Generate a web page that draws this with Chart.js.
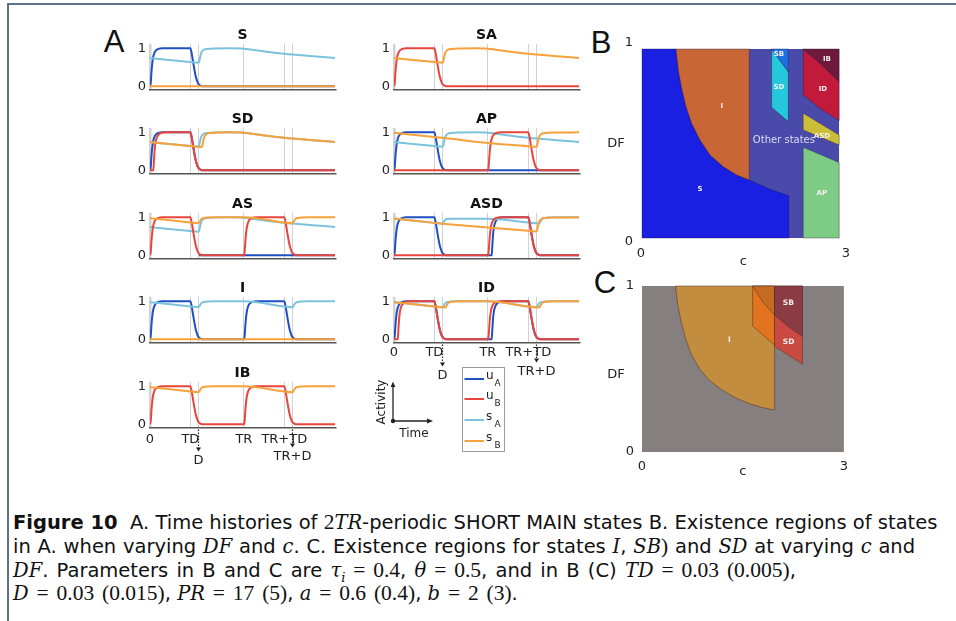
<!DOCTYPE html>
<html>
<head>
<meta charset="utf-8">
<title>Figure 10</title>
<script src="https://cdn.jsdelivr.net/npm/chart.js@4.4.1/dist/chart.umd.min.js"></script>
<style>
  body { margin: 0; background: #fff; font-family: "DejaVu Sans", sans-serif; color: #111; }
  #page { position: relative; width: 956px; height: 621px; overflow: hidden; }
  .plot { position: absolute; }
  .ctr { position: absolute; transform: translate(-50%, -50%); line-height: 1; white-space: nowrap; }
  .panel { font-family: "Liberation Sans", sans-serif; font-size: 31px; color: #111; }
  .ax { font-size: 13px; color: #222; }
  .cap { position: absolute; left: 13px; font-size: 19.5px; line-height: 24px; white-space: nowrap; color: #111; }
  .m { font-family: "DejaVu Serif", serif; font-style: italic; font-size: 19.5px; }
  .n { font-family: "Liberation Serif", serif; font-size: 21.5px; word-spacing: 2.5px; }
</style>
</head>
<body>
<div id="page">
  <div style="position:absolute;left:7px;top:3px;width:949px;height:2px;background:#5d7287"></div>
  <div style="position:absolute;left:7px;top:3px;width:2px;height:618px;background:#5d7287"></div>

  <div class="ctr panel" style="left:114px;top:41px">A</div>
  <div class="ctr panel" style="left:601px;top:42px">B</div>
  <div class="ctr panel" style="left:605px;top:282px">C</div>

  <!-- panel A, left column -->
  <div class="plot" style="left:120px;top:27px;width:218px;height:75px"><canvas id="cS"></canvas></div>
  <div class="plot" style="left:120px;top:111px;width:218px;height:75px"><canvas id="cSD"></canvas></div>
  <div class="plot" style="left:120px;top:196px;width:218px;height:75px"><canvas id="cAS"></canvas></div>
  <div class="plot" style="left:120px;top:280px;width:218px;height:75px"><canvas id="cI"></canvas></div>
  <div class="plot" style="left:120px;top:365px;width:218px;height:110px"><canvas id="cIB"></canvas></div>
  <!-- panel A, right column -->
  <div class="plot" style="left:364px;top:27px;width:218px;height:75px"><canvas id="cSA"></canvas></div>
  <div class="plot" style="left:364px;top:111px;width:218px;height:75px"><canvas id="cAP"></canvas></div>
  <div class="plot" style="left:364px;top:196px;width:218px;height:75px"><canvas id="cASD"></canvas></div>
  <div class="plot" style="left:364px;top:280px;width:218px;height:110px"><canvas id="cID"></canvas></div>

  <svg class="plot" style="left:360px;top:360px" width="160" height="100" font-family="DejaVu Sans" fill="#222">
    <line x1="33" y1="61" x2="33" y2="26" stroke="#222" stroke-width="1.3"/>
    <polygon points="30.6,27 35.4,27 33,21.5"/>
    <line x1="33" y1="61" x2="68" y2="61" stroke="#222" stroke-width="1.3"/>
    <polygon points="67,58.6 67,63.4 73,61"/>
    <circle cx="33" cy="61" r="2.2"/>
    <text transform="translate(25,42) rotate(-90)" text-anchor="middle" font-size="12">Activity</text>
    <text x="54" y="76.5" text-anchor="middle" font-size="12">Time</text>
    <rect x="102.5" y="7.5" width="42" height="84" fill="#fff" stroke="#9c9c9c"/>
    <line x1="104.5" y1="19" x2="124" y2="19" stroke="#1f4fc0" stroke-width="2"/>
    <line x1="104.5" y1="39" x2="124" y2="39" stroke="#e8453c" stroke-width="2"/>
    <line x1="104.5" y1="60" x2="124" y2="60" stroke="#7bc3dc" stroke-width="2"/>
    <line x1="104.5" y1="81" x2="124" y2="81" stroke="#f7a13a" stroke-width="2"/>
    <text x="126" y="18.5" font-size="12">u</text><text x="134.5" y="26" font-size="9">A</text>
    <text x="126" y="38.5" font-size="12">u</text><text x="134.5" y="46" font-size="9">B</text>
    <text x="126" y="59.5" font-size="12">s</text><text x="134.5" y="67" font-size="9">A</text>
    <text x="126" y="80.5" font-size="12">s</text><text x="134.5" y="88" font-size="9">B</text>
  </svg>

  <!-- panels B and C -->
  <div class="plot" style="left:611px;top:27px;width:243px;height:242px"><canvas id="cB"></canvas></div>
  <div class="plot" style="left:612px;top:270px;width:243px;height:209px"><canvas id="cC"></canvas></div>
  <div class="ctr ax" style="left:616px;top:142px">DF</div>
  <div class="ctr ax" style="left:616px;top:373px">DF</div>

  <div class="cap" style="top:510px"><b>Figure 10</b>&nbsp; A. Time histories of <span class="n">2</span><span class="m">TR</span>-periodic SHORT MAIN states B. Existence regions of states</div>
  <div class="cap" style="top:534px;word-spacing:0.6px">in A. when varying <span class="m">DF</span> and <span class="m">c</span>. C. Existence regions for states <span class="m">I</span>, <span class="m">SB</span><span class="n">)</span> and <span class="m">SD</span> at varying <span class="m">c</span> and</div>
  <div class="cap" style="top:558px;word-spacing:2px"><span class="m">DF</span>. Parameters in B and C are <span class="m">τ<sub style="font-size:13px">i</sub></span><span class="n"> = 0.4</span>, <span class="m">θ</span><span class="n"> = 0.5</span>, and in B (C) <span class="m">TD</span><span class="n"> = 0.03 (0.005)</span>,</div>
  <div class="cap" style="top:581px"><span class="m">D</span><span class="n"> = 0.03 (0.015)</span>, <span class="m">PR</span><span class="n"> = 17 (5)</span>, <span class="m">a</span><span class="n"> = 0.6 (0.4)</span>, <span class="m">b</span><span class="n"> = 2 (3)</span>.</div>
</div>

<script>
// ---- panel A: time axis (in units of TR) ----
const tMarks = [0, 0.43, 0.515, 1.0, 1.43, 1.515];
const tMarkLabels = ['0', 'TD', '', 'TR', 'TR+TD', ''];
const tArrowMarks = [0.515, 1.515];
const tArrowLabels = ['D', 'TR+D'];
const tEnd = 1.97;

// activity traces [time, value]
const uOnceEarly = [[0,0],[0.008,0.1],[0.018,0.45],[0.03,0.72],[0.045,0.87],[0.065,0.95],[0.09,0.985],[0.13,1],[0.43,1],[0.44,0.92],[0.452,0.75],[0.465,0.55],[0.478,0.37],[0.49,0.23],[0.505,0.12],[0.52,0.05],[0.54,0.015],[0.57,0],[1.97,0]];
const uOnceLate = [[0,0],[0.035,0],[0.042,0.25],[0.05,0.55],[0.06,0.75],[0.075,0.88],[0.095,0.95],[0.125,0.99],[0.16,1],[0.43,1],[0.44,0.92],[0.452,0.75],[0.465,0.55],[0.478,0.37],[0.49,0.23],[0.505,0.12],[0.52,0.05],[0.54,0.015],[0.57,0],[1.97,0]];
const uTwice = [[0,0],[0.008,0.1],[0.018,0.45],[0.03,0.72],[0.045,0.87],[0.065,0.95],[0.09,0.985],[0.13,1],[0.43,1],[0.44,0.92],[0.452,0.75],[0.465,0.55],[0.478,0.37],[0.49,0.23],[0.505,0.12],[0.52,0.05],[0.54,0.015],[0.57,0],[1.0,0],[1.008,0.1],[1.018,0.45],[1.03,0.72],[1.045,0.87],[1.065,0.95],[1.09,0.985],[1.13,1],[1.43,1],[1.44,0.92],[1.452,0.75],[1.465,0.55],[1.478,0.37],[1.49,0.23],[1.505,0.12],[1.52,0.05],[1.54,0.015],[1.57,0],[1.97,0]];
const uAtTR = [[0,0],[1.0,0],[1.008,0.1],[1.018,0.45],[1.03,0.72],[1.045,0.87],[1.065,0.95],[1.09,0.985],[1.13,1],[1.43,1],[1.44,0.92],[1.452,0.75],[1.465,0.55],[1.478,0.37],[1.49,0.23],[1.505,0.12],[1.52,0.05],[1.54,0.015],[1.57,0],[1.97,0]];
const uEarlyThenLate = [[0,0],[0.008,0.1],[0.018,0.45],[0.03,0.72],[0.045,0.87],[0.065,0.95],[0.09,0.985],[0.13,1],[0.43,1],[0.44,0.92],[0.452,0.75],[0.465,0.55],[0.478,0.37],[0.49,0.23],[0.505,0.12],[0.52,0.05],[0.54,0.015],[0.57,0],[1.04,0],[1.047,0.25],[1.055,0.55],[1.065,0.75],[1.08,0.88],[1.1,0.95],[1.13,0.99],[1.165,1],[1.43,1],[1.44,0.92],[1.452,0.75],[1.465,0.55],[1.478,0.37],[1.49,0.23],[1.505,0.12],[1.52,0.05],[1.54,0.015],[1.57,0],[1.97,0]];
const uLateThenEarly = [[0,0],[0.04,0],[0.047,0.25],[0.055,0.55],[0.065,0.75],[0.08,0.88],[0.1,0.95],[0.13,0.99],[0.165,1],[0.43,1],[0.44,0.92],[0.452,0.75],[0.465,0.55],[0.478,0.37],[0.49,0.23],[0.505,0.12],[0.52,0.05],[0.54,0.015],[0.57,0],[1.0,0],[1.008,0.1],[1.018,0.45],[1.03,0.72],[1.045,0.87],[1.065,0.95],[1.09,0.985],[1.13,1],[1.43,1],[1.44,0.92],[1.452,0.75],[1.465,0.55],[1.478,0.37],[1.49,0.23],[1.505,0.12],[1.52,0.05],[1.54,0.015],[1.57,0],[1.97,0]];
const zeroLine = [[0,0],[1.97,0]];
const zeroAfterD = [[0.52,0],[1.97,0]];

// synaptic traces
const sRecover = [[0,0.745],[0.2,0.696],[0.43,0.64],[0.515,0.62],[0.523,0.64],[0.532,0.75],[0.543,0.86],[0.556,0.93],[0.575,0.965],[0.61,0.985],[0.7,0.995],[0.85,1.0],[1.0,0.99],[1.2,0.925],[1.43,0.86],[1.7,0.8],[1.97,0.745]];
const sRecoverLate = [[0,0.745],[0.2,0.696],[0.43,0.64],[0.515,0.62],[0.55,0.612],[0.556,0.64],[0.565,0.75],[0.576,0.86],[0.59,0.93],[0.61,0.965],[0.645,0.985],[0.73,0.995],[0.85,1.0],[1.0,0.99],[1.2,0.925],[1.43,0.86],[1.7,0.8],[1.97,0.745]];
const sAP = [[0,0.99],[0.43,0.875],[0.515,0.855],[1.0,0.72],[1.43,0.635],[1.515,0.62],[1.523,0.64],[1.532,0.75],[1.543,0.86],[1.556,0.93],[1.575,0.965],[1.61,0.985],[1.7,0.995],[1.97,1.0]];
const sTwoDips = [[0,0.98],[0.43,0.865],[0.515,0.845],[0.523,0.86],[0.532,0.9],[0.543,0.94],[0.556,0.97],[0.575,0.985],[0.61,0.995],[0.7,1.0],[1.0,1.0],[1.43,0.865],[1.515,0.845],[1.523,0.86],[1.532,0.9],[1.543,0.94],[1.556,0.97],[1.575,0.985],[1.61,0.995],[1.7,1.0],[1.97,1.0]];
const sTwoDipsLate = [[0,0.98],[0.43,0.865],[0.515,0.845],[0.545,0.838],[0.553,0.86],[0.562,0.9],[0.573,0.94],[0.586,0.97],[0.605,0.985],[0.64,0.995],[0.72,1.0],[1.0,1.0],[1.43,0.865],[1.515,0.845],[1.545,0.838],[1.553,0.86],[1.562,0.9],[1.573,0.94],[1.586,0.97],[1.605,0.985],[1.64,0.995],[1.72,1.0],[1.97,1.0]];
const sASDb = [[0,0.97],[0.43,0.855],[0.515,0.835],[1.0,0.73],[1.43,0.645],[1.515,0.63],[1.523,0.65],[1.532,0.75],[1.543,0.86],[1.556,0.93],[1.575,0.965],[1.61,0.985],[1.7,0.995],[1.97,1.0]];
const sASDa = [[0,0.97],[0.43,0.855],[0.515,0.835],[0.523,0.85],[0.532,0.89],[0.545,0.93],[0.56,0.955],[0.6,0.965],[1.0,0.965],[1.43,0.865],[1.515,0.845],[1.545,0.838],[1.553,0.86],[1.562,0.9],[1.573,0.94],[1.586,0.97],[1.605,0.985],[1.64,0.995],[1.72,1.0],[1.97,1.0]];

// ---- panel B: existence regions [c, DF] ----
const curveB = [[0.512,0.97],[0.546,0.864],[0.595,0.772],[0.659,0.68],[0.742,0.596],[0.863,0.513],[1.01,0.437],[1.205,0.378],[1.40,0.337],[1.585,0.312]];
const otherB = [[0.015,0.02],[2.90,0.02],[2.90,0.97],[0.015,0.97]];
const sTailB = [[1.888,0.265],[2.166,0.233],[2.166,0.02],[0.015,0.02],[0.015,0.97]];
const iTailB = [[1.585,0.97]];
const sbB = [[1.912,0.97],[2.156,0.97],[2.156,0.856]];
const sdB = [[1.912,0.97],[2.156,0.856],[2.156,0.605],[1.912,0.677]];
const ibB = [[2.375,0.97],[2.902,0.97],[2.902,0.806],[2.639,0.893]];
const idB = [[2.375,0.97],[2.639,0.893],[2.902,0.806],[2.902,0.61],[2.639,0.667],[2.375,0.739]];
const asdB = [[2.375,0.647],[2.902,0.538],[2.902,0.487],[2.375,0.563]];
const apB = [[2.375,0.476],[2.902,0.399],[2.902,0.02],[2.375,0.02]];
const labelsB = [['SB',2.02,0.945],['SD',2.02,0.779],['IB',2.722,0.92],['ID',2.664,0.769],['I',1.185,0.683],['Other states',2.093,0.513],['ASD',2.649,0.533],['S',0.863,0.266],['AP',2.649,0.246]];

// ---- panel C ----
const curveC = [[0.498,1],[0.532,0.886],[0.581,0.785],[0.654,0.675],[0.727,0.594],[0.849,0.504],[0.995,0.434],[1.19,0.373],[1.386,0.327],[1.58,0.293],[1.776,0.269],[1.971,0.253]];
const bgC = [[0,0],[3,0],[3,1],[0,1]];
const iTailC = [[1.971,1]];
const sdInIC = [[1.644,1],[1.971,1],[1.971,0.645],[1.644,0.759]];
const sbInIC = [[1.644,1],[1.971,1],[1.971,0.825],[1.80,0.902]];
const sdC = [[1.971,1],[2.385,1],[2.385,0.53],[1.971,0.635]];
const sbC = [[1.971,1],[2.385,1],[2.385,0.695],[2.176,0.755],[1.971,0.825]];
const labelsC = [['I',1.298,0.675],['SB',2.176,0.896],['SD',2.18,0.661]];

const colUA = '#1f4fc0', colUB = '#e8453c', colSA = '#7bc3dc', colSB = '#f7a13a';
const arrowLabelDrop = [33, 29]; // px below the axis for the D / TR+D labels

const timePanels = [
  { id: 'cS', title: 'S', uA: uOnceEarly, sA: sRecover, sB: zeroLine },
  { id: 'cSA', title: 'SA', uB: uOnceEarly, sB: sRecover },
  { id: 'cSD', title: 'SD', uA: uOnceEarly, uB: uOnceLate, sA: sRecover, sB: sRecoverLate },
  { id: 'cAP', title: 'AP', uA: uOnceEarly, uB: uAtTR, sA: sRecover, sB: sAP },
  { id: 'cAS', title: 'AS', uA: zeroAfterD, uB: uTwice, sA: sRecover, sB: sTwoDips },
  { id: 'cASD', title: 'ASD', uA: uEarlyThenLate, uB: uAtTR, sA: sASDa, sB: sASDb },
  { id: 'cI', title: 'I', uA: uTwice, sA: sTwoDips, sB: zeroLine },
  { id: 'cID', title: 'ID', uA: uEarlyThenLate, uB: uLateThenEarly, sA: sTwoDips, sB: sTwoDipsLate, tickPad: 2 },
  { id: 'cIB', title: 'IB', uB: uTwice, sB: sTwoDips, tickPad: 4 }
];

Chart.defaults.font.family = 'DejaVu Sans';

const pts = pairs => pairs.map(p => ({ x: p[0], y: p[1] }));

const arrowPlugin = {
  id: 'tArrows',
  afterDraw(chart, args, opts) {
    if (!opts.show) return;
    const { ctx, chartArea, scales: { x } } = chart;
    ctx.save();
    tArrowMarks.forEach((v, i) => {
      const px = Math.round(x.getPixelForValue(v)) + 0.5;
      const labelY = chartArea.bottom + arrowLabelDrop[i];
      const top = chartArea.bottom + 2, tip = labelY - 9;
      ctx.strokeStyle = '#222';
      ctx.lineWidth = 1.2;
      ctx.setLineDash([1.5, 1.5]);
      ctx.beginPath(); ctx.moveTo(px, top); ctx.lineTo(px, tip - 3); ctx.stroke();
      ctx.setLineDash([]);
      ctx.fillStyle = '#222';
      ctx.beginPath(); ctx.moveTo(px - 2.5, tip - 4); ctx.lineTo(px + 2.5, tip - 4); ctx.lineTo(px, tip); ctx.closePath(); ctx.fill();
      ctx.font = '13px "DejaVu Sans"';
      ctx.textAlign = 'center';
      ctx.textBaseline = 'middle';
      ctx.fillText(tArrowLabels[i], px, labelY);
    });
    ctx.restore();
  }
};

function makeTimeChart(p) {
  const defs = [['sB', colSB], ['uB', colUB], ['sA', colSA], ['uA', colUA]]; // first one is drawn on top
  const datasets = defs.filter(d => p[d[0]]).map(d => ({
    label: d[0],
    data: pts(p[d[0]]),
    borderColor: d[1],
    borderWidth: 2,
    pointRadius: 0,
    cubicInterpolationMode: 'monotone',
    fill: false
  }));
  const withTicks = p.tickPad !== undefined;
  new Chart(document.getElementById(p.id), {
    type: 'line',
    data: { datasets },
    options: {
      responsive: true, maintainAspectRatio: false, animation: false, events: [],
      layout: { padding: { right: 3 } },
      plugins: {
        legend: { display: false },
        tooltip: { enabled: false },
        title: { display: true, text: p.title, color: '#111', padding: 0, fullSize: false,
                 font: { size: 14, weight: 'bold' } },
        tArrows: { show: withTicks }
      },
      scales: {
        x: {
          type: 'linear', min: 0, max: tEnd,
          afterBuildTicks: a => { a.ticks = tMarks.map(v => ({ value: v })); },
          afterFit: a => { a.height = a.chart.height - 16.8 - 45.6; },
          grid: { color: '#d2d2d2', lineWidth: c => c.index === 0 ? 2.5 : 1, drawTicks: false },
          border: { display: true, color: '#555', width: 1.5 },
          ticks: { display: withTicks, autoSkip: false, maxRotation: 0, padding: p.tickPad || 0,
                   color: '#222', font: { size: 13 }, callback: (v, i) => tMarkLabels[i] }
        },
        y: {
          min: -0.08, max: 1.12,
          afterBuildTicks: a => { a.ticks = [{ value: 0 }, { value: 1 }]; },
          afterFit: a => { a.width = 30; },
          grid: { display: false, drawTicks: false }, border: { display: false },
          ticks: { padding: 4, color: '#222', font: { size: 13 } }
        }
      }
    },
    plugins: [arrowPlugin]
  });
}

timePanels.forEach(makeTimeChart);

// polygons are drawn through the scatter points that the scales have placed
const regionPlugin = {
  id: 'regions',
  beforeDatasetsDraw(chart) {
    const ctx = chart.ctx;
    ctx.save();
    chart.data.datasets.forEach((ds, i) => {
      const el = chart.getDatasetMeta(i).data;
      ctx.beginPath();
      el.forEach((pt, k) => k ? ctx.lineTo(pt.x, pt.y) : ctx.moveTo(pt.x, pt.y));
      ctx.closePath();
      ctx.fillStyle = ds.backgroundColor;
      ctx.fill();
      if (ds.edge) {
        ctx.strokeStyle = ds.edge;
        ctx.lineWidth = 0.8;
        ctx.stroke();
      }
    });
    ctx.restore();
  },
  afterDatasetsDraw(chart, args, opts) {
    const { ctx, scales: { x, y } } = chart;
    ctx.save();
    ctx.textAlign = 'center';
    ctx.textBaseline = 'middle';
    opts.labels.forEach(l => {
      const big = l[0] === 'Other states';
      ctx.font = big ? '10px "DejaVu Sans"' : 'bold ' + opts.size + 'px "DejaVu Sans"';
      ctx.fillStyle = big ? '#dcdcf2' : '#f5f0f0';
      ctx.fillText(l[0], x.getPixelForValue(l[1]), y.getPixelForValue(l[2]));
    });
    ctx.restore();
  }
};

function region(poly, color, edge) {
  return { data: pts(poly), backgroundColor: color, edge: edge, pointRadius: 0, showLine: false };
}

function makeRegionChart(id, layers, labels, labelSize, tickPad) {
  new Chart(document.getElementById(id), {
    type: 'scatter',
    data: { datasets: layers },
    options: {
      responsive: true, maintainAspectRatio: false, animation: false, events: [],
      layout: { padding: { top: 16, right: 8 } },
      plugins: {
        legend: { display: false },
        tooltip: { enabled: false },
        regions: { labels: labels, size: labelSize }
      },
      scales: {
        x: {
          type: 'linear', min: 0, max: 3,
          afterBuildTicks: a => { a.ticks = [{ value: 0 }, { value: 3 }]; },
          afterFit: a => { a.height = 27; },
          grid: { display: false, drawTicks: false }, border: { display: false },
          ticks: { padding: tickPad, color: '#222', font: { size: 13 } },
          title: { display: true, text: 'c', color: '#222', padding: 0, font: { size: 13 } }
        },
        y: {
          min: 0, max: 1,
          afterBuildTicks: a => { a.ticks = [{ value: 0 }, { value: 1 }]; },
          afterFit: a => { a.width = 30; },
          grid: { display: false, drawTicks: false }, border: { display: false },
          ticks: { padding: 8, color: '#222', font: { size: 13 } }
        }
      }
    },
    plugins: [regionPlugin]
  });
}

const edgeB = 'rgba(30,20,60,0.45)';
makeRegionChart('cB', [
  region(otherB, '#4a4aab'),
  region(curveB.concat(sTailB), '#1a20e2', edgeB),
  region(curveB.concat(iTailB), '#c96636', edgeB),
  region(sdB, '#24c8da', edgeB),
  region(sbB, '#1e70e2', edgeB),
  region(idB, '#c11a3b', edgeB),
  region(ibB, '#701a3b', edgeB),
  region(asdB, '#cbbd38', edgeB),
  region(apB, '#7ecb86', edgeB)
], labelsB, 7, 4);

const edgeC = 'rgba(70,45,30,0.6)';
makeRegionChart('cC', [
  region(bgC, '#857f7f'),
  region(curveC.concat(iTailC), '#c28d3e', edgeC),
  region(sdInIC, '#e2731f', edgeC),
  region(sbInIC, '#c56b22', edgeC),
  region(sdC, '#c94a40', edgeC),
  region(sbC, '#8b3b44', edgeC)
], labelsC, 7.5, 7);
</script>
</body>
</html>
